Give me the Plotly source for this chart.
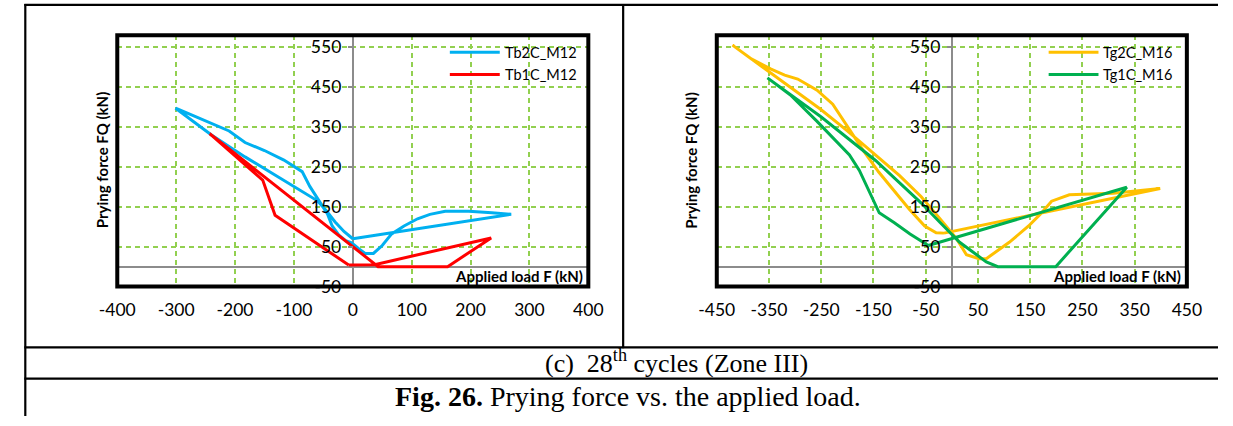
import plotly.graph_objects as go

W, H = 1233, 426

# ---------------- data ----------------
# Left panel (M12)
tb2c_x = [0, -15, -30, -45, -60, -120, -183, -240, -301, -270, -227, -210, -183, -150, -117, -86, -73,
          -56, -43, -35, -23, -12, -2, 10, 21, 35, 50, 66, 87, 110, 131, 157, 197, 236, 269, 0]
tb2c_y = [70, 88, 112, 140, 165, 218, 275, 330, 397, 378, 352, 340, 311, 291, 267, 238, 201,
          160, 132, 102, 78, 65, 60, 45, 33, 33, 53, 82, 102, 120, 131, 139, 139, 135, 131, 70]
tb1c_x = [-7, 37, 235, 174, 161, 43, -243, -153, -147, -132, -7]
tb1c_y = [4, 5, 72, 12, 0, 0, 333, 217, 192, 129, 4]

# Right panel (M16)
tg2c_x = [-15, 399, 309, 280, 225, 191, 169, 147, 110, 66, 52, 28, 9, -22, -59, -100, -150, -200, -252,
          -330, -420, -383, -346, -320, -295, -258, -228, -199, -169, -140, -110, -81, -52, -30, -15]
tg2c_y = [84, 196, 184, 182, 180, 164, 131, 102, 61, 20, 20, 30, 70, 119, 176, 228, 285, 340, 395,
          470, 555, 520, 495, 480, 470, 442, 407, 350, 290, 237, 188, 143, 102, 85, 84]
tg1c_x = [-45, 335, 199, 88, 66, 40, 15, -22, -59, -146, -250, -353, -309, -258, -228, -196, -177,
          -159, -139, -110, -80, -45]
tg1c_y = [53, 199, 0, 0, 12, 37, 61, 110, 160, 266, 375, 473, 430, 364, 323, 280, 241,
          190, 135, 110, 82, 53]

x_ticks_left = [-400, -300, -200, -100, 0, 100, 200, 300, 400]
x_ticks_right = [-450, -350, -250, -150, -50, 50, 150, 250, 350, 450]
y_ticks = [-50, 50, 150, 250, 350, 450, 550]
y_range = [-50, 580]
x_range_left = [-400, 400]
x_range_right = [-450, 450]

series_left = [("Tb2C_M12", tb2c_x, tb2c_y, "#00B0F0"), ("Tb1C_M12", tb1c_x, tb1c_y, "#FF0000")]
series_right = [("Tg2C_M16", tg2c_x, tg2c_y, "#FFC000"), ("Tg1C_M16", tg1c_x, tg1c_y, "#00B050")]

# ---------------- layout helpers ----------------
def px(v):
    return v / W

def py(v):
    return 1 - v / H

FONT = "Lato, Carlito, Calibri, sans-serif"
SERIF = "Liberation Serif, Times New Roman, serif"
GRID = "#92D050"
AXGRAY = "#8C8C8C"

left_dom = [px(102), px(586)]
right_dom = [px(718), px(1201)]
y_dom = [py(293.5), py(36)]

def zero_pos(dom, rng):
    return dom[0] + (dom[1] - dom[0]) * (0 - rng[0]) / (rng[1] - rng[0])

fig = go.Figure()
for series, xa, ya in ((series_left, "x", "y"), (series_right, "x2", "y2")):
    for name, xs, ys, col in series:
        fig.add_trace(go.Scatter(x=xs, y=ys, mode="lines", name=name, showlegend=False,
                                 line=dict(color=col, width=3), xaxis=xa, yaxis=ya))

def xaxis(dom, rng, ticks, anchor):
    return dict(domain=dom, range=rng, anchor=anchor, tickvals=ticks,
                ticktext=[str(t) for t in ticks], showgrid=True, gridcolor=GRID,
                griddash="5px,4px", gridwidth=1.8, zeroline=True, zerolinecolor=AXGRAY,
                zerolinewidth=2, showline=False, ticks="", ticklabelstandoff=11,
                tickfont=dict(family=FONT, size=17.5, color="black"), fixedrange=True)

def yaxis(pos):
    return dict(domain=y_dom, range=y_range, anchor="free", position=pos, tickvals=y_ticks,
                ticktext=[str(t) for t in y_ticks], showgrid=True, gridcolor=GRID,
                griddash="5px,4px", gridwidth=1.8, zeroline=True, zerolinecolor=AXGRAY,
                zerolinewidth=2, showline=False, ticks="outside", ticklen=5, tickwidth=1.5,
                tickcolor=AXGRAY, ticklabelstandoff=3,
                tickfont=dict(family=FONT, size=17.5, color="black"), fixedrange=True)

shapes = []
ann = []
for k, (xr, yr, series) in enumerate((("x domain", "y domain", series_left),
                                      ("x2 domain", "y2 domain", series_right))):
    # frame of the plot area
    shapes.append(dict(type="rect", xref=xr, yref=yr, x0=0, x1=1, y0=0, y1=1,
                       line=dict(color="black", width=4), layer="above"))
    # legend (transparent, top right)
    for i, (name, _, _, col) in enumerate(series):
        ly = 0.932 - i * 0.088
        shapes.append(dict(type="line", xref=xr, yref=yr, x0=0.706, x1=0.812, y0=ly, y1=ly,
                           line=dict(color=col, width=3), layer="above"))
        ann.append(dict(text=name, xref=xr, yref=yr, x=0.818, y=ly, xanchor="left",
                        yanchor="middle", showarrow=False,
                        font=dict(family=FONT, size=14.5, color="black")))
    ann.append(dict(text="<b>Applied load F (kN)</b>", xref=xr, yref=yr, x=0.992, y=0.041,
                    xanchor="right", yanchor="middle", showarrow=False,
                    font=dict(family=FONT, size=15, color="black")))

for cx in (75, 692):
    ann.append(dict(text="<b>Prying force FQ (kN)</b>", x=px(cx), y=py(164), xref="paper", yref="paper",
                    textangle=-90, showarrow=False, font=dict(family=FONT, size=15, color="black")))

# table borders of the document figure
def hline(y, x0, x1, w=2.2):
    return dict(type="line", xref="paper", yref="paper", x0=px(x0), x1=px(x1), y0=py(y), y1=py(y),
                line=dict(color="black", width=w), layer="above")

def vline(x, y0, y1, w=2.2):
    return dict(type="line", xref="paper", yref="paper", x0=px(x), x1=px(x), y0=py(y0), y1=py(y1),
                line=dict(color="black", width=w), layer="above")

shapes += [hline(5, 6.5, W), vline(7.5, 4, H), vline(621.8, 4, 356.5),
           hline(355.7, 6.5, W), hline(387.8, 6.5, W)]

ann.append(dict(text="(c)  28<sup>th</sup> cycles (Zone III)", x=px(677), y=py(370), xref="paper",
                yref="paper", showarrow=False, xanchor="center", yanchor="middle",
                font=dict(family=SERIF, size=26, color="black")))
ann.append(dict(text="<b>Fig. 26.</b> Prying force vs. the applied load.", x=px(627), y=py(406),
                xref="paper", yref="paper", showarrow=False, xanchor="center", yanchor="middle",
                font=dict(family=SERIF, size=28, color="black")))

fig.update_layout(
    width=W, height=H, margin=dict(l=0, r=0, t=0, b=0),
    paper_bgcolor="white", plot_bgcolor="white", showlegend=False,
    xaxis=xaxis(left_dom, x_range_left, x_ticks_left, "y"),
    yaxis=yaxis(zero_pos(left_dom, x_range_left)),
    xaxis2=xaxis(right_dom, x_range_right, x_ticks_right, "y2"),
    yaxis2=yaxis(zero_pos(right_dom, x_range_right)),
    shapes=shapes, annotations=ann,
)

fig.write_html("out.html", config={"displayModeBar": False},
               post_script="document.body.style.margin='0';document.body.style.overflow='hidden';")
